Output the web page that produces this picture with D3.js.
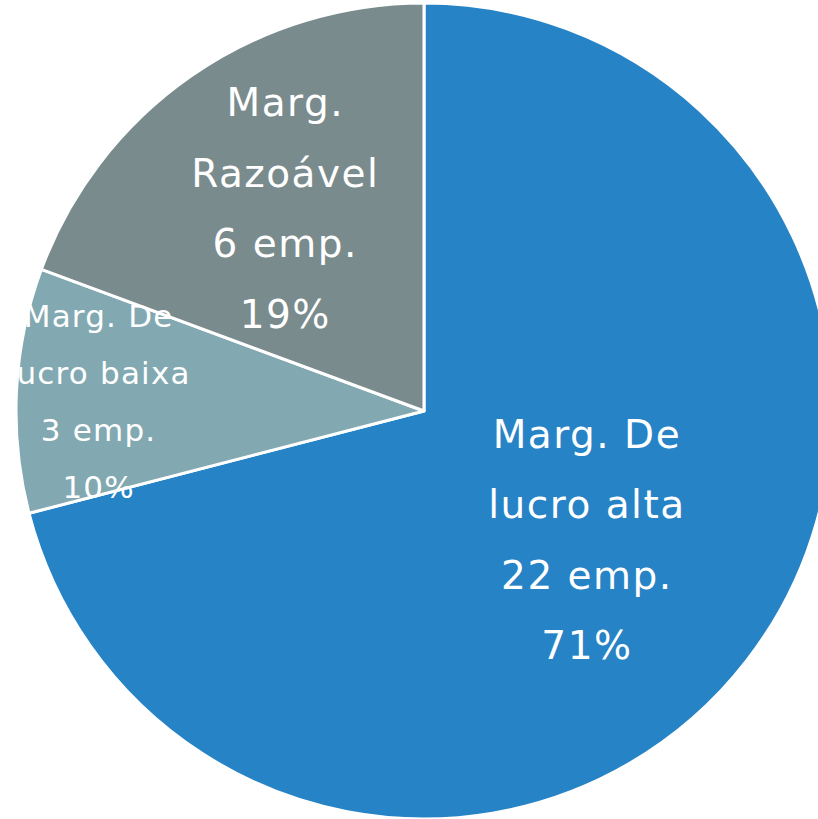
<!DOCTYPE html>
<html>
<head>
<meta charset="utf-8">
<script src="https://cdn.jsdelivr.net/npm/d3@7"></script>
<style>
  html, body { margin: 0; padding: 0; background: #ffffff; overflow: hidden; }
  svg { display: block; }
</style>
</head>
<body>
<svg id="chart" width="818" height="819"></svg>
<script>
// Data
const categories = ["Marg. De lucro alta", "Marg. De lucro baixa", "Marg. Razoável"];
const values = [22, 3, 6];
const labelLines = [
  ["Marg. De", "lucro alta", "22 emp.", "71%"],
  ["Marg. De", "lucro baixa", "3 emp.", "10%"],
  ["Marg.", "Razoável", "6 emp.", "19%"]
];
const colors = ["#2683C6", "#82A9B2", "#7A8B8D"];

// Layout
const width = 818, height = 819;
const cx = 424, cy = 411, R = 408;
const labelRadiusFactor = [0.515, 0.80, 0.607];
const labelShift = [[-4, 0], [0, 7], [2, 0]];
const fontSizes = [39, 31, 39];
const letterSpacing = [1.5, 1.2, 1.5];
const lineHeights = [70.5, 57, 70.5];

const svg = d3.select("#chart");
const g = svg.append("g").attr("transform", `translate(${cx},${cy})`);

const data = categories.map((c, i) => ({ cat: c, value: values[i], i }));
const pie = d3.pie().value(d => d.value).sort(null).startAngle(0).endAngle(2 * Math.PI);
const arcs = pie(data);
const arc = d3.arc().innerRadius(0).outerRadius(R);

g.selectAll("path.slice")
  .data(arcs)
  .join("path")
  .attr("class", "slice")
  .attr("d", arc)
  .attr("fill", (d, i) => colors[i])
  .attr("stroke", "#ffffff")
  .attr("stroke-width", 3)
  .attr("stroke-linejoin", "round");

arcs.forEach((a, i) => {
  const mid = (a.startAngle + a.endAngle) / 2;
  const r = R * labelRadiusFactor[i];
  const x = Math.sin(mid) * r + labelShift[i][0];
  const y = -Math.cos(mid) * r + labelShift[i][1];
  const lines = labelLines[i];
  const lh = lineHeights[i];
  const fs = fontSizes[i];
  const text = g.append("text")
    .attr("text-anchor", "middle")
    .attr("fill", "#ffffff")
    .attr("font-family", "'DejaVu Sans', Verdana, sans-serif")
    .attr("font-size", fs)
    .attr("letter-spacing", letterSpacing[i]);
  const total = (lines.length - 1) * lh;
  lines.forEach((ln, k) => {
    text.append("tspan")
      .attr("x", x + letterSpacing[i] / 2)
      .attr("y", y - total / 2 + k * lh)
      .attr("dy", "0.36em")
      .text(ln);
  });
});
</script>
</body>
</html>
